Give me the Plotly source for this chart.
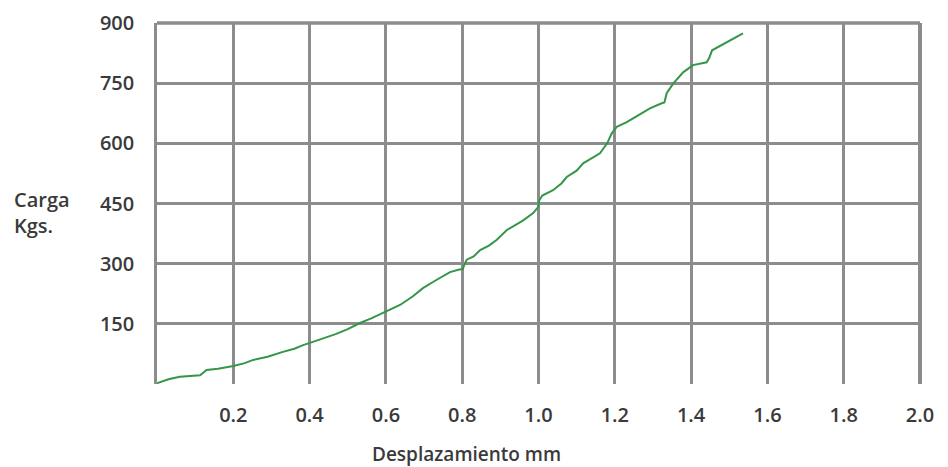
import plotly.graph_objects as go

desplazamiento = [0.0, 0.03, 0.06, 0.09, 0.113, 0.13, 0.16, 0.2, 0.23, 0.252, 0.29, 0.33, 0.36, 0.383,
                  0.4, 0.43, 0.47, 0.5, 0.532, 0.56, 0.598, 0.637, 0.67, 0.697, 0.73, 0.768, 0.79,
                  0.802, 0.805, 0.812, 0.83, 0.847, 0.87, 0.89, 0.917, 0.94, 0.96, 0.986, 0.999,
                  1.002, 1.01, 1.038, 1.06, 1.074, 1.1, 1.117, 1.14, 1.161, 1.18, 1.192, 1.205,
                  1.23, 1.248, 1.27, 1.292, 1.323, 1.33, 1.336, 1.353, 1.379, 1.405, 1.441, 1.447,
                  1.455, 1.47, 1.494, 1.515, 1.536]
carga = [2, 12, 18, 20, 22, 35, 38, 45, 52, 60, 68, 80, 88, 97,
         102, 112, 125, 137, 152, 163, 180, 197, 218, 239, 258, 279, 285,
         287, 296, 310, 318, 334, 345, 359, 384, 396, 408, 426, 441,
         458, 470, 483, 500, 516, 532, 550, 562, 575, 600, 625, 641,
         652, 662, 675, 687, 700, 702, 725, 749, 777, 795, 802, 812,
         832, 840, 852, 862, 874]

x_ticks = [0.2, 0.4, 0.6, 0.8, 1.0, 1.2, 1.4, 1.6, 1.8, 2.0]
x_tick_labels = ["0.2", "0.4", "0.6", "0.8", "1.0", "1.2", "1.4", "1.6", "1.8", "2.0"]
y_ticks = [150, 300, 450, 600, 750, 900]
y_tick_labels = ["150", "300", "450", "600", "750", "900"]

GRID = "#8c8c8c"
TXT = "#3a3a3a"
FONT = dict(family="Open Sans", size=20, color=TXT, weight=600)

fig = go.Figure()
fig.add_trace(go.Scatter(x=desplazamiento, y=carga, mode="lines",
                         line=dict(color="#339648", width=2), hoverinfo="skip"))

fig.update_layout(
    width=940, height=459,
    margin=dict(l=149, r=28, t=15, b=83),
    paper_bgcolor="white", plot_bgcolor="white",
    showlegend=False,
    font=FONT,
    xaxis=dict(range=[0, 2.0], tickvals=x_ticks, ticktext=x_tick_labels,
               showgrid=True, gridcolor=GRID, gridwidth=2.5, zeroline=False,
               showline=False, ticks="", ticklabelstandoff=17, tickfont=FONT,
               automargin=False),
    yaxis=dict(range=[0, 900], tickvals=y_ticks, ticktext=y_tick_labels,
               showgrid=True, gridcolor=GRID, gridwidth=2.5, zeroline=False,
               showline=True, linecolor=GRID, linewidth=2.5, ticks="",
               ticklabelstandoff=16, tickfont=FONT, automargin=False),
    shapes=[
        dict(type="line", xref="paper", yref="paper", x0=0, x1=1, y0=1, y1=1,
             line=dict(color=GRID, width=3.5)),
        dict(type="line", xref="paper", yref="paper", x0=1, x1=1, y0=0, y1=1,
             line=dict(color=GRID, width=4)),
    ],
    annotations=[
        dict(text="Desplazamiento mm", xref="paper", yref="paper", x=0.406, y=-0.193,
             xanchor="center", yanchor="middle", showarrow=False,
             font=dict(family="Open Sans", size=19, color=TXT, weight=600)),
        dict(text="Carga<br>Kgs.", xref="paper", yref="paper", x=-0.19, y=0.474,
             xanchor="left", yanchor="middle", showarrow=False, align="left",
             font=dict(family="Open Sans", size=20, color=TXT, weight=600)),
    ],
)

fig.write_html("out.html")
